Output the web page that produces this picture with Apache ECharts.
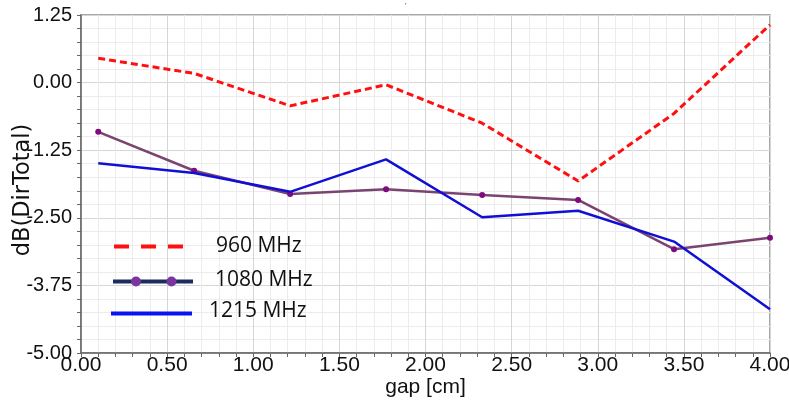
<!DOCTYPE html>
<html>
<head>
<meta charset="utf-8">
<script src="https://cdn.jsdelivr.net/npm/echarts@6/dist/echarts.min.js"></script>
<style>
  html, body { margin: 0; padding: 0; background: #ffffff; }
  #chart { width: 789px; height: 402px; }
</style>
</head>
<body>
<div id="chart"></div>
<script>
// gap positions (cm)
const gapCm = [0.1, 0.657, 1.214, 1.771, 2.329, 2.886, 3.443, 4.0];

// dB(DirTotal) per frequency
const dir960 = [0.45, 0.17, -0.43, -0.04, -0.75, -1.82, -0.57, 1.07];
const dir1080 = [-0.91, -1.63, -2.06, -1.97, -2.08, -2.17, -3.08, -2.87];
const dir1215 = [-1.49, -1.67, -2.02, -1.42, -2.49, -2.37, -2.94, -4.19];

const seriesNames = ['960 MHz', '1080 MHz', '1215 MHz'];

const pairs = ys => gapCm.map((x, i) => [x, ys[i]]);

const axisFont = "'Liberation Sans', Arial, sans-serif";
const legendFont = "'Open Sans', 'Noto Sans', sans-serif";

const chart = echarts.init(document.getElementById('chart'), null, { renderer: 'canvas' });

chart.setOption({
  animation: false,
  backgroundColor: '#ffffff',
  grid: {
    left: 81, right: 19, top: 15, bottom: 49,
    outerBoundsMode: 'none',
    containLabel: false,
    show: true, borderColor: '#8a8a8a', borderWidth: 1.5
  },
  xAxis: {
    type: 'value',
    min: 0, max: 4, interval: 0.5,
    name: 'gap [cm]',
    nameLocation: 'middle',
    nameGap: 24,
    nameMoveOverlap: false,
    nameTextStyle: { fontFamily: axisFont, fontSize: 21, color: '#111' },
    axisLine: { show: true, onZero: false, lineStyle: { color: '#666', width: 1.5 } },
    axisTick: { show: true, length: 4, lineStyle: { color: '#666' } },
    minorTick: { show: true, splitNumber: 5, length: 4, lineStyle: { color: '#666' } },
    axisLabel: {
      margin: 2, fontFamily: axisFont, fontSize: 21, color: '#111',
      showMinLabel: true, showMaxLabel: true, hideOverlap: false,
      formatter: v => v.toFixed(2)
    },
    splitLine: { show: true, lineStyle: { color: '#d6d6d6', width: 1 } },
    minorSplitLine: { show: true, lineStyle: { color: '#ececec', width: 1 } }
  },
  yAxis: {
    type: 'value',
    min: -5, max: 1.25, interval: 1.25,
    name: 'dB(DirTotal)',
    nameLocation: 'middle',
    nameRotate: 90,
    nameGap: 46,
    nameMoveOverlap: false,
    nameTextStyle: {
      fontFamily: "'DejaVu Sans', sans-serif", fontSize: 22.5, color: '#111',
      padding: [0, 12, 0, 0]
    },
    axisLine: { show: true, onZero: false, lineStyle: { color: '#666', width: 1.5 } },
    axisTick: { show: true, length: 4, lineStyle: { color: '#666' } },
    minorTick: { show: true, splitNumber: 5, length: 4, lineStyle: { color: '#666' } },
    axisLabel: {
      margin: 9, fontFamily: axisFont, fontSize: 20, color: '#111',
      showMinLabel: true, showMaxLabel: true, hideOverlap: false,
      formatter: v => v.toFixed(2)
    },
    splitLine: { show: true, lineStyle: { color: '#d6d6d6', width: 1 } },
    minorSplitLine: { show: true, lineStyle: { color: '#ececec', width: 1 } }
  },
  series: [
    {
      name: seriesNames[1], type: 'line', data: pairs(dir1080),
      symbol: 'circle', symbolSize: 6,
      itemStyle: { color: '#7f0a80' },
      lineStyle: { color: '#7b4470', width: 2.5 }, z: 3
    },
    {
      name: seriesNames[2], type: 'line', data: pairs(dir1215),
      showSymbol: false, symbol: 'none',
      lineStyle: { color: '#1010d4', width: 2.5 }, z: 4
    },
    {
      name: seriesNames[0], type: 'line', data: pairs(dir960),
      showSymbol: false, symbol: 'none',
      lineStyle: { color: '#ff1010', width: 3, type: [7, 4] }, z: 5
    }
  ],
  graphic: {
    elements: [
      // legend keys, drawn inside the plot area
      { type: 'line', z: 100, shape: { x1: 114, y1: 246.5, x2: 195, y2: 246.5 },
        style: { stroke: '#ff1010', lineWidth: 4, lineDash: [15, 12] } },
      { type: 'text', z: 100, left: 216, top: 236,
        style: { text: seriesNames[0], font: "21px " + legendFont, fill: '#111' } },

      { type: 'line', z: 100, shape: { x1: 113, y1: 281.5, x2: 193, y2: 281.5 },
        style: { stroke: '#1c2c5c', lineWidth: 4 } },
      { type: 'circle', z: 101, shape: { cx: 136, cy: 281.5, r: 5 }, style: { fill: '#7a35a0' } },
      { type: 'circle', z: 101, shape: { cx: 171.5, cy: 281.5, r: 5 }, style: { fill: '#7a35a0' } },
      { type: 'text', z: 100, left: 215, top: 270,
        style: { text: seriesNames[1], font: "21px " + legendFont, fill: '#111' } },

      { type: 'line', z: 100, shape: { x1: 111, y1: 313.5, x2: 192, y2: 313.5 },
        style: { stroke: '#0a14f0', lineWidth: 4 } },
      { type: 'text', z: 100, left: 209, top: 301,
        style: { text: seriesNames[2], font: "21px " + legendFont, fill: '#111' } },

      { type: 'text', z: 100, left: 405, top: 2,
        style: { text: "'", font: "8px 'Liberation Sans', sans-serif", fill: '#333' } }
    ]
  }
});
</script>
</body>
</html>
